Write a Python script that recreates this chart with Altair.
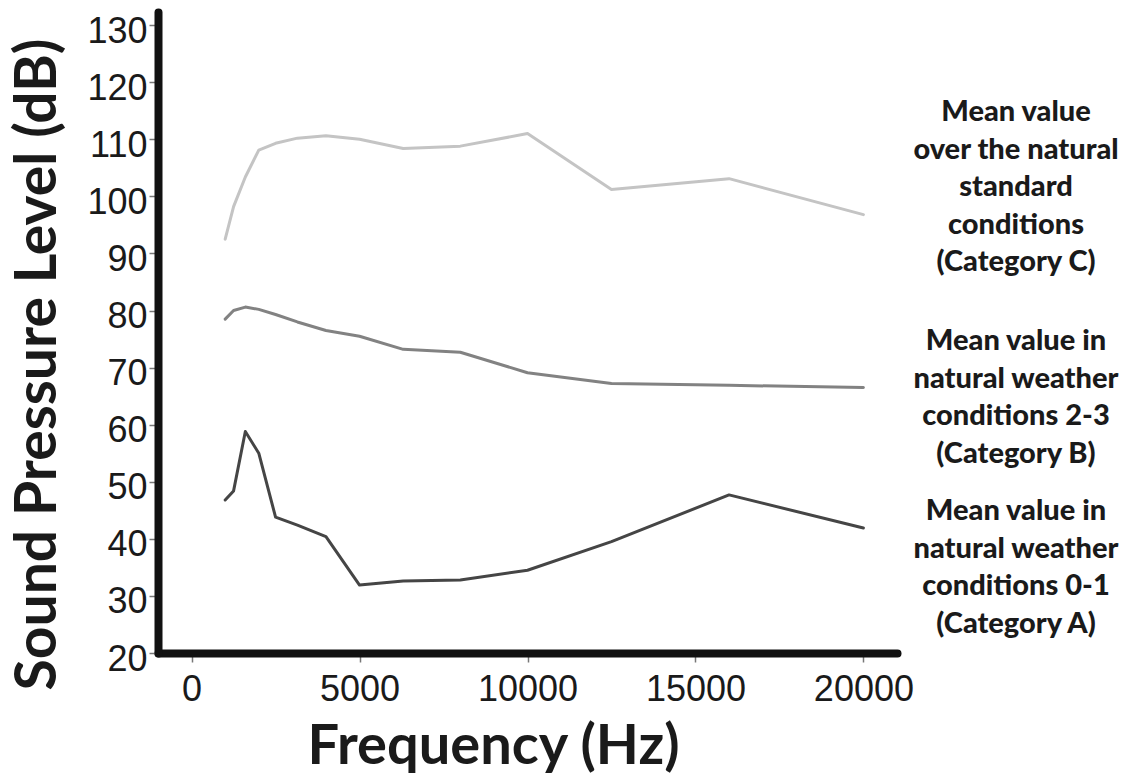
import altair as alt
import pandas as pd

freqs = [1000, 1250, 1600, 2000, 2500, 3150, 4000, 5000, 6300, 8000, 10000, 12500, 16000, 20000]
cat_a = [46.8, 48.4, 58.8, 55.0, 43.8, 42.4, 40.4, 31.9, 32.6, 32.8, 34.5, 39.5, 47.7, 41.9]
cat_b = [78.5, 80.0, 80.6, 80.2, 79.3, 78.0, 76.5, 75.5, 73.2, 72.7, 69.1, 67.2, 66.9, 66.5]
cat_c = [92.5, 98.2, 103.4, 108.1, 109.3, 110.2, 110.6, 110.0, 108.4, 108.8, 111.0, 101.2, 103.1, 96.8]

series_names = ["Category A", "Category B", "Category C"]
series_colors = ["#454545", "#828282", "#c4c4c4"]

x_ticks = [0, 5000, 10000, 15000, 20000]
y_ticks = [20, 30, 40, 50, 60, 70, 80, 90, 100, 110, 120, 130]

label_c = ["Mean value", "over the natural", "standard", "conditions", "(Category C)"]
label_b = ["Mean value in", "natural weather", "conditions 2-3", " (Category B)"]
label_a = ["Mean value in", "natural weather", "conditions 0-1", " (Category A)"]

rows = []
for name, vals in zip(series_names, [cat_a, cat_b, cat_c]):
    for f, v in zip(freqs, vals):
        rows.append({"freq": f, "spl": v, "series": name})
df = pd.DataFrame(rows)

W, H = 739, 641

lines = alt.Chart(df).mark_line(strokeWidth=3, strokeJoin="round", strokeCap="round").encode(
    x=alt.X("freq:Q",
            scale=alt.Scale(domain=[-1000, 21000], nice=False, zero=False),
            axis=alt.Axis(values=x_ticks, format="d", title="Frequency (Hz)",
                          titleFont="Lato", titleFontWeight="bold", titleFontSize=56,
                          titleColor="#1a1a1a", titleX=335, titleY=110,
                          titleAlign="center", titleBaseline="alphabetic",
                          labelFont="Liberation Sans", labelFontSize=36, labelColor="#1a1a1a",
                          labelPadding=10, tickSize=9, tickWidth=1.5, tickColor="#777777",
                          domainWidth=8, domainColor="#111111", domainCap="round",
                          grid=False)),
    y=alt.Y("spl:Q",
            scale=alt.Scale(domain=[20, 132.3], nice=False, zero=False),
            axis=alt.Axis(values=y_ticks, title="Sound Pressure Level (dB)",
                          titleFont="Lato", titleFontWeight="bold", titleFontSize=57,
                          titleColor="#1a1a1a", titleX=-103, titleY=352,
                          titleAlign="center", titleBaseline="alphabetic", titleAngle=270,
                          labelFont="Liberation Sans", labelFontSize=36, labelColor="#1a1a1a",
                          labelPadding=2, labelOffset=6, tickSize=9, tickWidth=1.5,
                          tickColor="#777777",
                          domainWidth=8, domainColor="#111111", domainCap="round",
                          grid=False)),
    color=alt.Color("series:N", scale=alt.Scale(domain=series_names, range=series_colors),
                    legend=None),
    detail="series:N",
)

def annot(text_lines, ypix):
    return alt.Chart(pd.DataFrame({"t": [0]})).mark_text(
        font="Lato", fontWeight=900, fontSize=29, color="#1a1a1a",
        align="center", baseline="middle", lineHeight=37.5, lineBreak="\n"
    ).encode(x=alt.value(858), y=alt.value(ypix), text=alt.value("\n".join(text_lines)))

chart = alt.layer(
    lines,
    annot(label_c, 100),
    annot(label_b, 329),
    annot(label_a, 499),
).properties(
    width=W, height=H,
    autosize=alt.AutoSizeParams(type="none"),
    padding={"left": 158, "top": 12, "right": 1126 - 158 - W, "bottom": 776 - 12 - H},
    background="white",
).configure_view(stroke=None)

chart.save("out.html", embed_options={"renderer": "svg", "actions": False})
